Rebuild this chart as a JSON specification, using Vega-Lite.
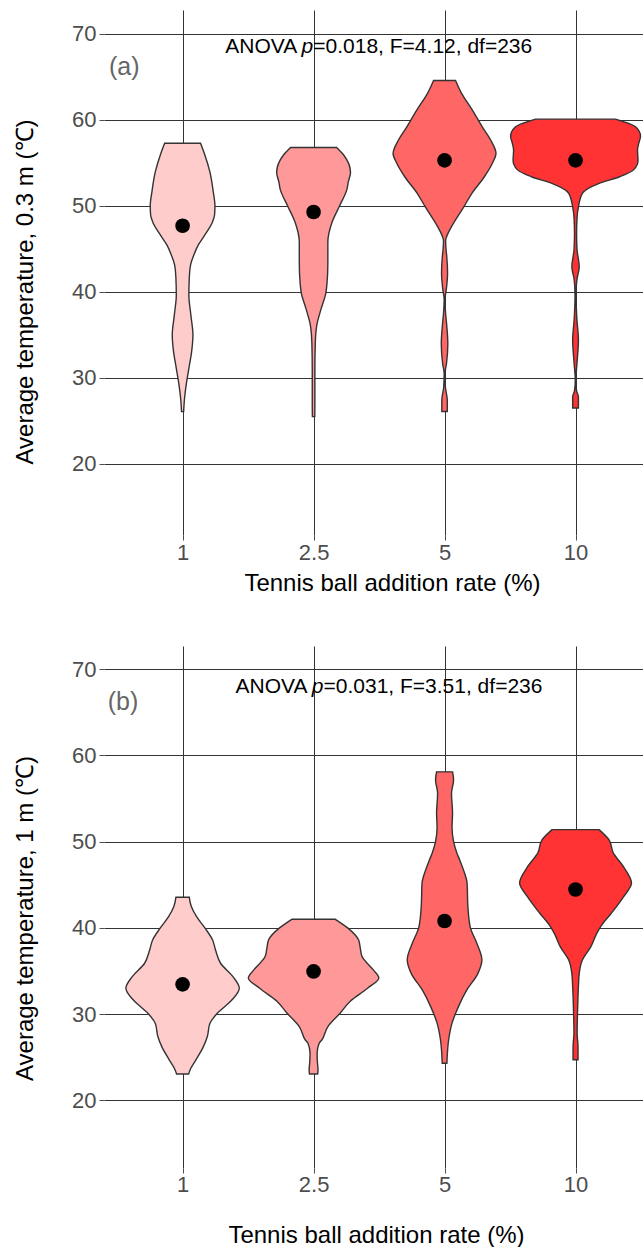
{
  "$schema": "https://vega.github.io/schema/vega-lite/v6.json",
  "autosize": {"type": "pad"},
  "padding": {"left": 13, "top": 10, "right": 0, "bottom": 0},
  "background": "white",
  "config": {
    "view": {"stroke": null},
    "font": "Liberation Sans",
    "axis": {
      "labelFont": "Liberation Sans", "titleFont": "Liberation Sans",
      "labelColor": "#4D4D4D", "labelFontSize": 22,
      "titleFontSize": 24, "titleColor": "black", "titleFontWeight": "normal",
      "gridColor": "#333333", "gridOpacity": 1, "gridWidth": 1,
      "domain": false, "tickColor": "#4D4D4D", "tickSize": 5, "ticks": true
    }
  },
  "datasets": {
    "violins": [
      {"panel":"a","rate":"1","temp":26.09,"w":0.008},
      {"panel":"a","rate":"1","temp":27.64,"w":0.015},
      {"panel":"a","rate":"1","temp":29.57,"w":0.031},
      {"panel":"a","rate":"1","temp":31.12,"w":0.048},
      {"panel":"a","rate":"1","temp":33.06,"w":0.069},
      {"panel":"a","rate":"1","temp":35.0,"w":0.079},
      {"panel":"a","rate":"1","temp":37.33,"w":0.063},
      {"panel":"a","rate":"1","temp":39.65,"w":0.048},
      {"panel":"a","rate":"1","temp":41.59,"w":0.051},
      {"panel":"a","rate":"1","temp":43.14,"w":0.061},
      {"panel":"a","rate":"1","temp":44.3,"w":0.086},
      {"panel":"a","rate":"1","temp":45.47,"w":0.12},
      {"panel":"a","rate":"1","temp":46.63,"w":0.17},
      {"panel":"a","rate":"1","temp":48.18,"w":0.229},
      {"panel":"a","rate":"1","temp":48.95,"w":0.244},
      {"panel":"a","rate":"1","temp":50.0,"w":0.247},
      {"panel":"a","rate":"1","temp":51.67,"w":0.234},
      {"panel":"a","rate":"1","temp":53.99,"w":0.208},
      {"panel":"a","rate":"1","temp":55.93,"w":0.17},
      {"panel":"a","rate":"1","temp":57.29,"w":0.137},

      {"panel":"a","rate":"2.5","temp":25.5,"w":0.009},
      {"panel":"a","rate":"2.5","temp":27.0,"w":0.01},
      {"panel":"a","rate":"2.5","temp":30.9,"w":0.01},
      {"panel":"a","rate":"2.5","temp":34.0,"w":0.013},
      {"panel":"a","rate":"2.5","temp":36.1,"w":0.024},
      {"panel":"a","rate":"2.5","temp":38.0,"w":0.057},
      {"panel":"a","rate":"2.5","temp":39.9,"w":0.094},
      {"panel":"a","rate":"2.5","temp":41.1,"w":0.103},
      {"panel":"a","rate":"2.5","temp":43.4,"w":0.109},
      {"panel":"a","rate":"2.5","temp":45.8,"w":0.109},
      {"panel":"a","rate":"2.5","temp":48.1,"w":0.141},
      {"panel":"a","rate":"2.5","temp":50.0,"w":0.198},
      {"panel":"a","rate":"2.5","temp":51.9,"w":0.254},
      {"panel":"a","rate":"2.5","temp":52.8,"w":0.265},
      {"panel":"a","rate":"2.5","temp":53.9,"w":0.282},
      {"panel":"a","rate":"2.5","temp":55.9,"w":0.231},
      {"panel":"a","rate":"2.5","temp":56.8,"w":0.176},

      {"panel":"a","rate":"5","temp":26.1,"w":0.021},
      {"panel":"a","rate":"5","temp":27.4,"w":0.021},
      {"panel":"a","rate":"5","temp":29.0,"w":0.006},
      {"panel":"a","rate":"5","temp":30.5,"w":0.003},
      {"panel":"a","rate":"5","temp":31.7,"w":0.015},
      {"panel":"a","rate":"5","temp":34.0,"w":0.025},
      {"panel":"a","rate":"5","temp":36.4,"w":0.015},
      {"panel":"a","rate":"5","temp":37.5,"w":0.008},
      {"panel":"a","rate":"5","temp":39.1,"w":0.003},
      {"panel":"a","rate":"5","temp":40.5,"w":0.015},
      {"panel":"a","rate":"5","temp":42.2,"w":0.023},
      {"panel":"a","rate":"5","temp":44.1,"w":0.017},
      {"panel":"a","rate":"5","temp":45.0,"w":0.011},
      {"panel":"a","rate":"5","temp":46.0,"w":0.008},
      {"panel":"a","rate":"5","temp":46.4,"w":0.015},
      {"panel":"a","rate":"5","temp":47.6,"w":0.053},
      {"panel":"a","rate":"5","temp":49.9,"w":0.147},
      {"panel":"a","rate":"5","temp":51.5,"w":0.21},
      {"panel":"a","rate":"5","temp":53.4,"w":0.304},
      {"panel":"a","rate":"5","temp":55.0,"w":0.366},
      {"panel":"a","rate":"5","temp":56.1,"w":0.393},
      {"panel":"a","rate":"5","temp":57.7,"w":0.351},
      {"panel":"a","rate":"5","temp":59.2,"w":0.288},
      {"panel":"a","rate":"5","temp":61.2,"w":0.21},
      {"panel":"a","rate":"5","temp":63.1,"w":0.13},
      {"panel":"a","rate":"5","temp":64.6,"w":0.084},

      {"panel":"a","rate":"10","temp":26.5,"w":0.022},
      {"panel":"a","rate":"10","temp":27.8,"w":0.022},
      {"panel":"a","rate":"10","temp":28.5,"w":0.008},
      {"panel":"a","rate":"10","temp":29.8,"w":0.002},
      {"panel":"a","rate":"10","temp":31.7,"w":0.011},
      {"panel":"a","rate":"10","temp":34.4,"w":0.022},
      {"panel":"a","rate":"10","temp":36.7,"w":0.011},
      {"panel":"a","rate":"10","temp":37.5,"w":0.008},
      {"panel":"a","rate":"10","temp":39.5,"w":0.004},
      {"panel":"a","rate":"10","temp":40.6,"w":0.006},
      {"panel":"a","rate":"10","temp":41.5,"w":0.011},
      {"panel":"a","rate":"10","temp":42.9,"w":0.028},
      {"panel":"a","rate":"10","temp":45.0,"w":0.011},
      {"panel":"a","rate":"10","temp":46.8,"w":0.008},
      {"panel":"a","rate":"10","temp":48.5,"w":0.011},
      {"panel":"a","rate":"10","temp":49.9,"w":0.022},
      {"panel":"a","rate":"10","temp":51.5,"w":0.053},
      {"panel":"a","rate":"10","temp":52.6,"w":0.176},
      {"panel":"a","rate":"10","temp":53.4,"w":0.336},
      {"panel":"a","rate":"10","temp":54.2,"w":0.443},
      {"panel":"a","rate":"10","temp":55.3,"w":0.477},
      {"panel":"a","rate":"10","temp":56.5,"w":0.473},
      {"panel":"a","rate":"10","temp":57.2,"w":0.481},
      {"panel":"a","rate":"10","temp":58.1,"w":0.496},
      {"panel":"a","rate":"10","temp":59.2,"w":0.458},
      {"panel":"a","rate":"10","temp":60.1,"w":0.304},

      {"panel":"b","rate":"1","temp":23.05,"w":0.046},
      {"panel":"b","rate":"1","temp":23.5,"w":0.056},
      {"panel":"b","rate":"1","temp":24.7,"w":0.102},
      {"panel":"b","rate":"1","temp":26.2,"w":0.158},
      {"panel":"b","rate":"1","temp":27.4,"w":0.189},
      {"panel":"b","rate":"1","temp":28.9,"w":0.208},
      {"panel":"b","rate":"1","temp":30.1,"w":0.265},
      {"panel":"b","rate":"1","temp":31.6,"w":0.374},
      {"panel":"b","rate":"1","temp":33.0,"w":0.433},
      {"panel":"b","rate":"1","temp":34.3,"w":0.387},
      {"panel":"b","rate":"1","temp":35.9,"w":0.29},
      {"panel":"b","rate":"1","temp":37.4,"w":0.252},
      {"panel":"b","rate":"1","temp":38.6,"w":0.229},
      {"panel":"b","rate":"1","temp":40.0,"w":0.17},
      {"panel":"b","rate":"1","temp":41.3,"w":0.107},
      {"panel":"b","rate":"1","temp":42.5,"w":0.066},
      {"panel":"b","rate":"1","temp":43.55,"w":0.051},

      {"panel":"b","rate":"2.5","temp":23.05,"w":0.031},
      {"panel":"b","rate":"2.5","temp":23.5,"w":0.034},
      {"panel":"b","rate":"2.5","temp":24.5,"w":0.029},
      {"panel":"b","rate":"2.5","temp":25.5,"w":0.027},
      {"panel":"b","rate":"2.5","temp":26.6,"w":0.042},
      {"panel":"b","rate":"2.5","temp":27.0,"w":0.063},
      {"panel":"b","rate":"2.5","temp":28.5,"w":0.107},
      {"panel":"b","rate":"2.5","temp":30.1,"w":0.202},
      {"panel":"b","rate":"2.5","temp":31.5,"w":0.28},
      {"panel":"b","rate":"2.5","temp":33.0,"w":0.412},
      {"panel":"b","rate":"2.5","temp":34.2,"w":0.498},
      {"panel":"b","rate":"2.5","temp":35.1,"w":0.458},
      {"panel":"b","rate":"2.5","temp":36.7,"w":0.369},
      {"panel":"b","rate":"2.5","temp":37.8,"w":0.355},
      {"panel":"b","rate":"2.5","temp":38.6,"w":0.344},
      {"panel":"b","rate":"2.5","temp":40.0,"w":0.26},
      {"panel":"b","rate":"2.5","temp":41.0,"w":0.166},

      {"panel":"b","rate":"5","temp":24.3,"w":0.018},
      {"panel":"b","rate":"5","temp":27.0,"w":0.031},
      {"panel":"b","rate":"5","temp":28.9,"w":0.056},
      {"panel":"b","rate":"5","temp":30.9,"w":0.107},
      {"panel":"b","rate":"5","temp":32.8,"w":0.17},
      {"panel":"b","rate":"5","temp":34.7,"w":0.254},
      {"panel":"b","rate":"5","temp":36.3,"w":0.285},
      {"panel":"b","rate":"5","temp":38.2,"w":0.247},
      {"panel":"b","rate":"5","temp":40.1,"w":0.196},
      {"panel":"b","rate":"5","temp":42.5,"w":0.178},
      {"panel":"b","rate":"5","temp":45.2,"w":0.172},
      {"panel":"b","rate":"5","temp":46.7,"w":0.145},
      {"panel":"b","rate":"5","temp":47.9,"w":0.115},
      {"panel":"b","rate":"5","temp":48.7,"w":0.094},
      {"panel":"b","rate":"5","temp":50.0,"w":0.069},
      {"panel":"b","rate":"5","temp":51.7,"w":0.057},
      {"panel":"b","rate":"5","temp":53.3,"w":0.061},
      {"panel":"b","rate":"5","temp":55.6,"w":0.053},
      {"panel":"b","rate":"5","temp":57.2,"w":0.069},
      {"panel":"b","rate":"5","temp":58.1,"w":0.061},

      {"panel":"b","rate":"10","temp":24.7,"w":0.019},
      {"panel":"b","rate":"10","temp":26.2,"w":0.019},
      {"panel":"b","rate":"10","temp":27.8,"w":0.012},
      {"panel":"b","rate":"10","temp":30.1,"w":0.015},
      {"panel":"b","rate":"10","temp":33.2,"w":0.022},
      {"panel":"b","rate":"10","temp":34.7,"w":0.028},
      {"panel":"b","rate":"10","temp":36.3,"w":0.053},
      {"panel":"b","rate":"10","temp":37.8,"w":0.116},
      {"panel":"b","rate":"10","temp":39.4,"w":0.163},
      {"panel":"b","rate":"10","temp":40.3,"w":0.198},
      {"panel":"b","rate":"10","temp":41.7,"w":0.273},
      {"panel":"b","rate":"10","temp":43.6,"w":0.366},
      {"panel":"b","rate":"10","temp":45.2,"w":0.427},
      {"panel":"b","rate":"10","temp":47.1,"w":0.366},
      {"panel":"b","rate":"10","temp":48.7,"w":0.288},
      {"panel":"b","rate":"10","temp":50.2,"w":0.256},
      {"panel":"b","rate":"10","temp":51.4,"w":0.179}
    ],
    "means": [
      {"panel":"a","rate":"1","temp":47.7},
      {"panel":"a","rate":"2.5","temp":49.3},
      {"panel":"a","rate":"5","temp":55.3},
      {"panel":"a","rate":"10","temp":55.3},
      {"panel":"b","rate":"1","temp":33.45},
      {"panel":"b","rate":"2.5","temp":34.95},
      {"panel":"b","rate":"5","temp":40.8},
      {"panel":"b","rate":"10","temp":44.45}
    ]
  },
  "bounds": "flush",
  "spacing": 111,
  "vconcat": [
    {
      "width": 539, "height": 525,
      "layer": [
        {
          "data": {"name": "violins"},
          "transform": [
            {"filter": "datum.panel == 'a'"},
            {"calculate": "indexof(['1','2.5','5','10'], datum.rate) + 1", "as": "idx"},
            {"calculate": "datum.idx - datum.w", "as": "lo"},
            {"calculate": "datum.idx + datum.w", "as": "hi"}
          ],
          "mark": {"type": "area", "orient": "horizontal", "interpolate": "monotone", "stroke": "#333333", "strokeWidth": 1.4},
          "encoding": {
            "y": {"field": "temp", "type": "quantitative", "scale": {"domain": [11.74, 72.79], "nice": false, "zero": false},
                  "axis": {"values": [20,30,40,50,60,70], "title": "Average temperature, 0.3 m (℃)", "titlePadding": 34.5, "titleY": 281.5, "labelPadding": 3}},
            "x": {"field": "lo", "type": "quantitative", "scale": {"domain": [0.4, 4.515], "nice": false, "zero": false},
                  "axis": {"values": [1,2,3,4], "labelExpr": "['1','2.5','5','10'][datum.value - 1]", "title": "Tennis ball addition rate (%)", "titleX": 288, "titlePadding": 8, "labelPadding": 2}},
            "x2": {"field": "hi"},
            "detail": {"field": "rate"},
            "color": {"field": "rate", "type": "nominal", "scale": {"domain": ["1","2.5","5","10"], "range": ["#FFCCCC","#FF9999","#FF6666","#FF3333"]}, "legend": null}
          }
        },
        {
          "data": {"name": "means"},
          "transform": [
            {"filter": "datum.panel == 'a'"},
            {"calculate": "indexof(['1','2.5','5','10'], datum.rate) + 1", "as": "idx"}
          ],
          "mark": {"type": "point", "filled": true, "color": "black", "opacity": 1, "size": 215},
          "encoding": {
            "x": {"field": "idx", "type": "quantitative"},
            "y": {"field": "temp", "type": "quantitative"}
          }
        },
        {
          "data": {"values": [{}]},
          "mark": {"type": "text", "text": "(a)", "fontSize": 25, "color": "#666666", "align": "center", "baseline": "middle"},
          "encoding": {"x": {"datum": 0.555}, "y": {"datum": 66.2}}
        },
        {
          "data": {"values": [{}]},
          "mark": {"type": "text", "text": "ANOVA", "fontSize": 21, "color": "black", "align": "right", "baseline": "middle", "dx": -10},
          "encoding": {"x": {"datum": 1.952}, "y": {"datum": 68.52}}
        },
        {
          "data": {"values": [{}]},
          "mark": {"type": "text", "text": "p", "fontSize": 21, "fontStyle": "italic", "color": "black", "align": "center", "baseline": "middle"},
          "encoding": {"x": {"datum": 1.952}, "y": {"datum": 68.52}}
        },
        {
          "data": {"values": [{}]},
          "mark": {"type": "text", "text": "=0.018, F=4.12, df=236", "fontSize": 21, "color": "black", "align": "left", "baseline": "middle", "dx": 6},
          "encoding": {"x": {"datum": 1.952}, "y": {"datum": 68.52}}
        }
      ]
    },
    {
      "width": 539, "height": 522,
      "layer": [
        {
          "data": {"name": "violins"},
          "transform": [
            {"filter": "datum.panel == 'b'"},
            {"calculate": "indexof(['1','2.5','5','10'], datum.rate) + 1", "as": "idx"},
            {"calculate": "datum.idx - datum.w", "as": "lo"},
            {"calculate": "datum.idx + datum.w", "as": "hi"}
          ],
          "mark": {"type": "area", "orient": "horizontal", "interpolate": "monotone", "stroke": "#333333", "strokeWidth": 1.4},
          "encoding": {
            "y": {"field": "temp", "type": "quantitative", "scale": {"domain": [12.15, 72.7], "nice": false, "zero": false},
                  "axis": {"values": [20,30,40,50,60,70], "title": "Average temperature, 1 m (℃)", "titlePadding": 34.5, "titleY": 272, "labelPadding": 3}},
            "x": {"field": "lo", "type": "quantitative", "scale": {"domain": [0.4, 4.515], "nice": false, "zero": false},
                  "axis": {"values": [1,2,3,4], "labelExpr": "['1','2.5','5','10'][datum.value - 1]", "title": "Tennis ball addition rate (%)", "titleX": 272, "titlePadding": 28, "labelPadding": 1}},
            "x2": {"field": "hi"},
            "detail": {"field": "rate"},
            "color": {"field": "rate", "type": "nominal", "scale": {"domain": ["1","2.5","5","10"], "range": ["#FFCCCC","#FF9999","#FF6666","#FF3333"]}, "legend": null}
          }
        },
        {
          "data": {"name": "means"},
          "transform": [
            {"filter": "datum.panel == 'b'"},
            {"calculate": "indexof(['1','2.5','5','10'], datum.rate) + 1", "as": "idx"}
          ],
          "mark": {"type": "point", "filled": true, "color": "black", "opacity": 1, "size": 215},
          "encoding": {
            "x": {"field": "idx", "type": "quantitative"},
            "y": {"field": "temp", "type": "quantitative"}
          }
        },
        {
          "data": {"values": [{}]},
          "mark": {"type": "text", "text": "(b)", "fontSize": 25, "color": "#666666", "align": "center", "baseline": "middle"},
          "encoding": {"x": {"datum": 0.545}, "y": {"datum": 66.2}}
        },
        {
          "data": {"values": [{}]},
          "mark": {"type": "text", "text": "ANOVA", "fontSize": 21, "color": "black", "align": "right", "baseline": "middle", "dx": -10},
          "encoding": {"x": {"datum": 2.03}, "y": {"datum": 67.98}}
        },
        {
          "data": {"values": [{}]},
          "mark": {"type": "text", "text": "p", "fontSize": 21, "fontStyle": "italic", "color": "black", "align": "center", "baseline": "middle"},
          "encoding": {"x": {"datum": 2.03}, "y": {"datum": 67.98}}
        },
        {
          "data": {"values": [{}]},
          "mark": {"type": "text", "text": "=0.031, F=3.51, df=236", "fontSize": 21, "color": "black", "align": "left", "baseline": "middle", "dx": 6},
          "encoding": {"x": {"datum": 2.03}, "y": {"datum": 67.98}}
        }
      ]
    }
  ]
}
